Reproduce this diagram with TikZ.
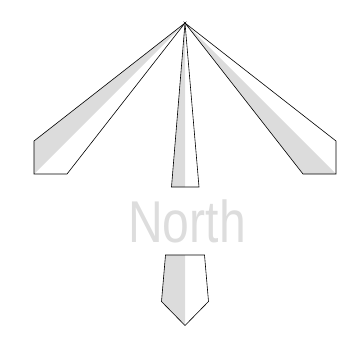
\documentclass[tikz,border=0pt]{standalone}
\usepackage{fontspec}
\setmainfont{Liberation Sans}
\definecolor{shade}{HTML}{DCDCDC}
\definecolor{txtgray}{HTML}{DDDDDD}
\tikzset{
  outline/.style={draw=black, line width=0.6pt, line join=miter},
  shadefill/.style={fill=shade, draw=none},
}
\begin{document}
\begin{tikzpicture}[x=1pt,y=-1pt]
\useasboundingbox (0,0) rectangle (350,338);
\coordinate (apex) at (185,23);
% left blade
\coordinate (L1) at (34,141);
\coordinate (L2) at (34,174);
\coordinate (L3) at (67,174);
\fill[shadefill] (apex) -- (L1) -- (L2) -- cycle;
\draw[outline] (apex) -- (L1) -- (L2) -- (L3) -- cycle;
% middle blade
\coordinate (M1) at (171.5,187);
\coordinate (M2) at (185,187);
\coordinate (M3) at (199,187);
\fill[shadefill] (apex) -- (M1) -- (M2) -- cycle;
\draw[outline] (apex) -- (M1) -- (M3) -- cycle;
% right blade
\coordinate (R1) at (336,141);
\coordinate (R2) at (336,174);
\coordinate (R3) at (303,174);
\fill[shadefill] (apex) -- (R3) -- (R2) -- cycle;
\draw[outline] (apex) -- (R1) -- (R2) -- (R3) -- cycle;
% label
\node[anchor=base, inner sep=0pt, text=txtgray, xscale=0.815, font=\fontsize{59}{59}\selectfont] (north) at (187,242.3) {North};
% bottom arrow
\coordinate (A1) at (165.5,255);
\coordinate (A2) at (185,255);
\coordinate (A3) at (204.5,255);
\coordinate (A4) at (208.5,301.5);
\coordinate (A5) at (185,325.5);
\coordinate (A6) at (161.5,301.5);
\fill[shadefill] (A1) -- (A2) -- (A5) -- (A6) -- cycle;
\draw[outline] (A1) -- (A3) -- (A4) -- (A5) -- (A6) -- cycle;
\end{tikzpicture}
\end{document}
